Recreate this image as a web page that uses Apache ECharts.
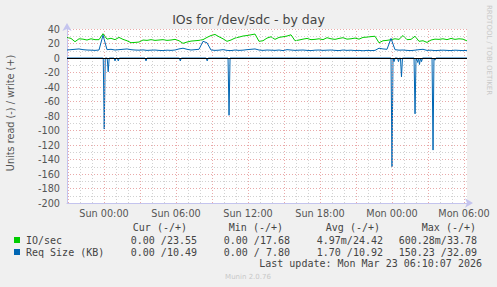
<!DOCTYPE html>
<html><head><meta charset="utf-8">
<script src="https://cdn.jsdelivr.net/npm/echarts@6/dist/echarts.min.js"></script>
<style>html,body{margin:0;padding:0;background:#f0f0f0}#c{width:497px;height:287px}</style>
</head><body><div id="c"></div>
<script>
// ---- data ----
const chartTitle = 'IOs for /dev/sdc - by day';
const yAxisTitle = 'Units read (-) / write (+)';
const xTickHours = [0, 6, 12, 18, 24, 30];
const xTickLabels = ['Sun 00:00', 'Sun 06:00', 'Sun 12:00', 'Sun 18:00', 'Mon 00:00', 'Mon 06:00'];
const startHour = -37 / 12;      // hours relative to Sun 00:00 (Sat ~20:55)
const spanHours = 400 / 12;      // 400 five-minute columns
const stepHours = 20 / 60;       // sampling step of the write series below
// IO/sec (write, +)
const ioWrite = [28.4,27,22.5,26.5,26,24.8,26.5,25.3,25.3,33.5,26,27.2,25.3,28.4,25.7,23.8,21.1,21.5,22,24.8,
  24.3,25.3,24.3,24.8,25.3,24.3,24.8,25.7,23.8,20.2,22,23.3,23.8,24.3,25.3,28.4,31,32.5,29.3,26.5,
  23,24.8,27.5,28.8,30.3,31,32,33,23,23.8,27.5,29.3,25.7,28.4,29.3,30.3,32,23.8,24.8,26,
  27,25.3,25.7,26.5,25.3,28,26.5,25.7,27,28,26,26.5,27.5,26,28.4,28.8,29.5,30,21,23.8,
  24.3,25.3,26.5,25.7,31,25.3,25.7,30,23,23.8,21.5,24.8,26,25.7,26.5,25.3,27,25.7,26.5,26,23.6];
// Req Size (KB) (write, +)
const reqWrite = [11,11.5,12,12.5,11.5,11,10.8,10.5,11,31.5,11.5,12,11,11.5,12,12.5,11.5,11,10.8,11.2,
  10.5,10.8,11,10.5,10.2,10.8,10.5,11,12.5,13.5,12,11,11.5,12,23,21,11,10.5,10.8,11.5,
  10.5,10.2,11,10.5,10.8,11.5,12,12.5,11,10.5,11,10.8,10.5,11,10.2,11.5,11,10.5,10.8,11,
  10.5,10.2,10.8,11,10.5,10.8,11,10.5,10.2,11,10.5,10.8,10.2,10.5,10,10.5,10.2,10.5,13.5,12.5,
  12,27,11.5,10.8,11,10.5,10.2,10.8,11.5,12,10.5,10.8,10.2,10.5,10.8,10.5,10.2,10.8,10.5,10.2,10.5];
// Req Size (KB) (read, -) : spikes, hour & value
const reqReadHours  = [0.02, 0.35, 0.92, 1.19, 3.5, 6.36, 8.6, 10.42, 24.0, 24.17, 24.54, 24.79, 25.92, 26.13, 26.29, 26.46, 27.42, 27.58];
const reqReadValues = [-98, -19, -4, -4, -4, -4, -4, -79, -150, -5, -5, -26, -77, -6, -9, -5, -127, -3];
// legend
const legendHeaders = ['Cur (-/+)', 'Min (-/+)', 'Avg (-/+)', 'Max (-/+)'];
const legendNames = ['IO/sec', 'Req Size (KB)'];
const ioStats  = ['0.00 /23.55', '0.00 /17.68', '4.97m/24.42', '600.28m/33.78'];
const reqStats = ['0.00 /10.49', '0.00 /\u00a07.80', '1.70 /10.92', '150.23 /32.09'];
const lastUpdate = 'Last update: Mon Mar 23 06:10:07 2026';
const footer = 'Munin 2.0.76';
const sideText = 'RRDTOOL / TOBI OETIKER';

// ---- build ----
const GREEN = '#00cc00', BLUE = '#0066b3';
const endHour = startHour + spanHours;
const ioData = ioWrite.map((v, i) => [startHour + i * stepHours, v]);
const reqData = reqWrite.map((v, i) => [startHour + i * stepHours, v]);
let readData = [[startHour, 0], [endHour, 0]];
reqReadHours.forEach((h, i) => { readData.push([h - 1/12, 0], [h, reqReadValues[i]], [h + 1/12, 0]); });
readData.sort((a, b) => a[0] - b[0]);

const gridHours = [];
for (let h = Math.ceil(startHour); h <= endHour; h++) gridHours.push(h);
const RED = 'rgba(225,140,140,0.75)', GREY = 'rgba(190,190,190,0.7)';
const AXIS = '#c4c4ee';

const SANS = 'DejaVu Sans', MONO = 'DejaVu Sans Mono';
const colRight = [197, 290, 383, 477];
const headRight = [187, 283, 380, 476];
const g = [];
g.push({type:'text', x:248.5, y:19.5, style:{text:chartTitle, font:'12.5px "'+SANS+'"', fill:'#444', textAlign:'center', textVerticalAlign:'middle'}});
g.push({type:'text', x:10, y:113, rotation:Math.PI/2, style:{text:yAxisTitle, font:'9.7px "'+SANS+'"', fill:'#555', textAlign:'center', textVerticalAlign:'middle'}});
g.push({type:'text', x:489, y:5, rotation:-Math.PI/2, style:{text:sideText, font:'7px "'+SANS+'"', fill:'#c8c8c8', textAlign:'left', textVerticalAlign:'middle'}});
legendHeaders.forEach((t, i) => g.push({type:'text', x:headRight[i], y:227, style:{text:t, font:'10px "'+MONO+'"', fill:'#444', textAlign:'right', textVerticalAlign:'middle'}}));
[[legendNames[0], ioStats, GREEN, 240], [legendNames[1], reqStats, BLUE, 252]].forEach(([name, stats, col, y]) => {
  g.push({type:'rect', shape:{x:14, y:y-3, width:6, height:6}, style:{fill:col}});
  g.push({type:'text', x:26, y:y, style:{text:name, font:'10px "'+MONO+'"', fill:'#444', textAlign:'left', textVerticalAlign:'middle'}});
  stats.forEach((s, i) => g.push({type:'text', x:colRight[i], y:y, style:{text:s, font:'10px "'+MONO+'"', fill:'#444', textAlign:'right', textVerticalAlign:'middle'}}));
});
g.push({type:'text', x:482, y:263.5, style:{text:lastUpdate, font:'10px "'+MONO+'"', fill:'#444', textAlign:'right', textVerticalAlign:'middle'}});
g.push({type:'text', x:248, y:276.5, style:{text:footer, font:'7px "'+SANS+'"', fill:'#c8c8c8', textAlign:'center', textVerticalAlign:'middle'}});

const chart = echarts.init(document.getElementById('c'), null, {renderer:'svg'});
chart.setOption({
  backgroundColor:'#f0f0f0',
  animation:false,
  grid:{left:67, right:30, top:29, bottom:84, show:true, backgroundColor:'#ffffff', borderWidth:0},
  xAxis:{type:'value', min:startHour, max:endHour,
    axisLine:{show:true, onZero:false, lineStyle:{color:AXIS, width:1}, symbol:['none','arrow'], symbolSize:[7,8], symbolOffset:[0,6]},
    axisTick:{show:false},
    axisLabel:{customValues:xTickHours, formatter:(v)=>xTickLabels[xTickHours.indexOf(Math.round(v))], color:'#555', fontFamily:SANS, fontSize:9.7, margin:5},
    splitLine:{show:false}},
  yAxis:{type:'value', min:-200, max:40, interval:20,
    axisLine:{show:true, onZero:false, lineStyle:{color:AXIS, width:1}, symbol:['none','arrow'], symbolSize:[7,8], symbolOffset:[0,6]},
    axisTick:{show:false},
    axisLabel:{color:'#555', fontFamily:SANS, fontSize:9.7, margin:7},
    splitLine:{show:true, lineStyle:{color:RED, type:[1,2], width:1}},
    minorTick:{show:false, splitNumber:2},
    minorSplitLine:{show:true, lineStyle:{color:GREY, type:[1,2], width:1}}},
  graphic:g,
  series:[
    {name:'grid', type:'line', data:[], z:1, silent:true,
      markLine:{silent:true, symbol:'none', label:{show:false}, animation:false,
        data:gridHours.map(h=>({xAxis:h, lineStyle:{color:(h%3===0)?RED:GREY, type:[1,2], width:1}}))}},
    {name:'Req read', type:'line', data:readData, symbol:'none', z:3, lineStyle:{color:BLUE, width:1}},
    {name:'IO/sec', type:'line', data:ioData, symbol:'none', z:4, lineStyle:{color:GREEN, width:1}},
    {name:'Req Size (KB)', type:'line', data:reqData, symbol:'none', z:5, lineStyle:{color:BLUE, width:1}},
    {name:'zero', type:'line', data:[], z:6, silent:true,
      markLine:{silent:true, symbol:'none', label:{show:false}, animation:false,
        data:[{yAxis:0, lineStyle:{color:'#000', type:'solid', width:1}}]}}
  ]
});
</script></body></html>
